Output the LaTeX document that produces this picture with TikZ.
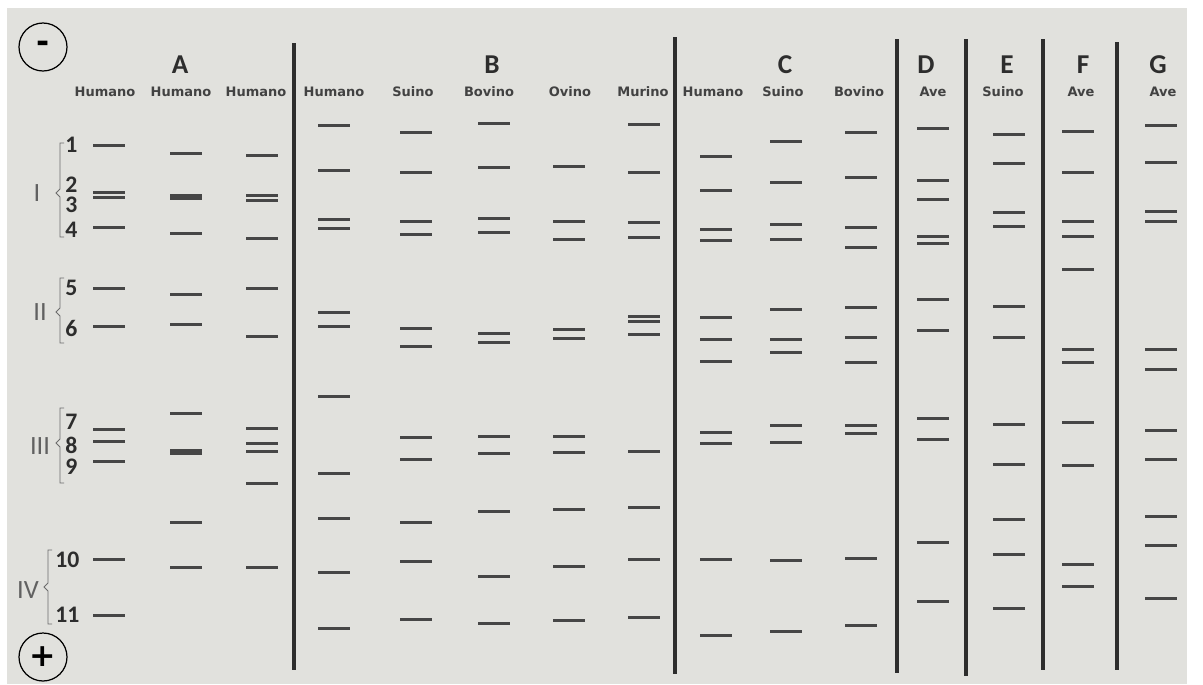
\documentclass[tikz,border=0pt]{standalone}
\usepackage{fontspec}
\setmainfont{Carlito}
\newfontfamily\lanefont{DejaVu Sans}
\definecolor{gelbg}{RGB}{225,225,221}
\definecolor{bandgray}{RGB}{70,70,70}
\definecolor{ink}{RGB}{45,45,45}
\tikzset{
  band/.style={draw=bandgray, line width=1.7pt},
  divider/.style={draw=ink, line width=1.8pt},
  grp/.style={font=\bfseries\fontsize{15.5}{15.5}\selectfont, text=ink, inner sep=0pt},
  lane/.style={font=\lanefont\bfseries\fontsize{7.4}{7.4}\selectfont, text=ink!90, inner sep=0pt},
  bandnum/.style={font=\bfseries\fontsize{13.5}{13.5}\selectfont, text=ink, anchor=west, inner sep=0pt},
  zone/.style={font=\fontsize{15}{15}\selectfont, text=ink!75, inner sep=0pt},
  bracket/.style={draw=ink!70, line width=0.5pt},
  pole/.style={draw=black, line width=0.7pt, circle, minimum size=0.96cm, inner sep=0pt,
    font=\lanefont\bfseries\fontsize{18}{18}\selectfont}
}
\begin{document}
\begin{tikzpicture}[x=0.02cm, y=-0.02cm]
  \useasboundingbox (0,0) rectangle (1203,684);
  % gel background
  \fill[gelbg] (7,8) rectangle (1187,684);

  % poles
  \node[pole] (minus) at (43,47) {\raisebox{-1.5pt}{-}};
  \node[pole] (plus) at (43,657) {+};

  % group letters
  \node[grp] (grpA) at (180,65) {A};
  \node[grp] (grpB) at (492,65) {B};
  \node[grp] (grpC) at (785,65) {C};
  \node[grp] (grpD) at (926,65) {D};
  \node[grp] (grpE) at (1007,65) {E};
  \node[grp] (grpF) at (1083,65) {F};
  \node[grp] (grpG) at (1158,65) {G};

  % lane labels
  \foreach \x/\name [count=\i] in {105/Humano, 181/Humano, 256/Humano, 334/Humano,
      413/Suino, 489/Bovino, 570/Ovino, 643/Murino, 713/Humano, 783/Suino,
      859/Bovino, 933/Ave, 1003/Suino, 1081/Ave, 1163/Ave}
    \node[lane] (lane\i) at (\x,92) {\name};

  % dividers
  \draw[divider] (294,43) -- (294,670);
  \draw[divider] (675,37) -- (675,674);
  \draw[divider] (897,39) -- (897,673);
  \draw[divider] (966,39) -- (966,676);
  \draw[divider] (1043,39) -- (1043,670);
  \draw[divider] (1117,42) -- (1117,670);

  % band numbers
  \foreach \y/\n in {145/1, 185/2, 205/3, 230/4, 288/5, 328/6, 422/7, 445/8, 467/9}
    \node[bandnum] (num\n) at (65,\y) {\n};
  \node[bandnum] (num10) at (55,560) {10};
  \node[bandnum] (num11) at (55,615) {11};

  % regions
  \node[zone] (regI) at (37,193) {I};
  \draw[bracket] (64,143) -- (60,143) -- (60,189) -- (56,193) -- (60,197) -- (60,237) -- (64,237);
  \node[zone] (regII) at (40,312) {II};
  \draw[bracket] (64,278) -- (60,278) -- (60,308) -- (56,312) -- (60,316) -- (60,343) -- (64,343);
  \node[zone] (regIII) at (40,446) {III};
  \draw[bracket] (64,408) -- (60,408) -- (60,439) -- (56,443) -- (60,447) -- (60,483) -- (64,483);
  \node[zone] (regIV) at (28,590) {IV};
  \draw[bracket] (52,550) -- (48,550) -- (48,583) -- (44,587) -- (48,591) -- (48,624) -- (52,624);

  % bands
  \foreach \x/\ys in {
      109/{145,192,197,227,288,326,429,441,461,559,615},
      186/{153,195.5,198.5,233,294,324,413,450.5,453.5,522,567},
      262/{155,195,200,238,288,336,428,443,451,483,567},
      334/{125,170,219,228,312,326,396,473,518,572,628},
      416/{132,172,221,234,328,346,437,459,522,561,619},
      494/{123,167,218,232,333,342,436,453,511,576,623},
      569/{166,221,239,329,338,436,452,509,566,620},
      644/{124,172,222,237,316,321,334,451,507,559,617},
      716/{156,190,229,240,317,339,361,432,443,559,635},
      786/{141,182,224,239,309,339,352,425,442,560,631},
      861/{132,177,227,247,307,337,362,425,433,558,625},
      933/{128,180,199,236,243,299,330,418,439,542,601},
      1009/{134,163,212,226,306,337,424,464,519,554,608},
      1078/{131,172,221,236,269,349,362,422,465,564,586},
      1161/{125,162,211,221,349,369,430,459,516,545,598}}
    \foreach \y in \ys
      \draw[band] (\x-16,\y) -- (\x+16,\y);
\end{tikzpicture}
\end{document}
